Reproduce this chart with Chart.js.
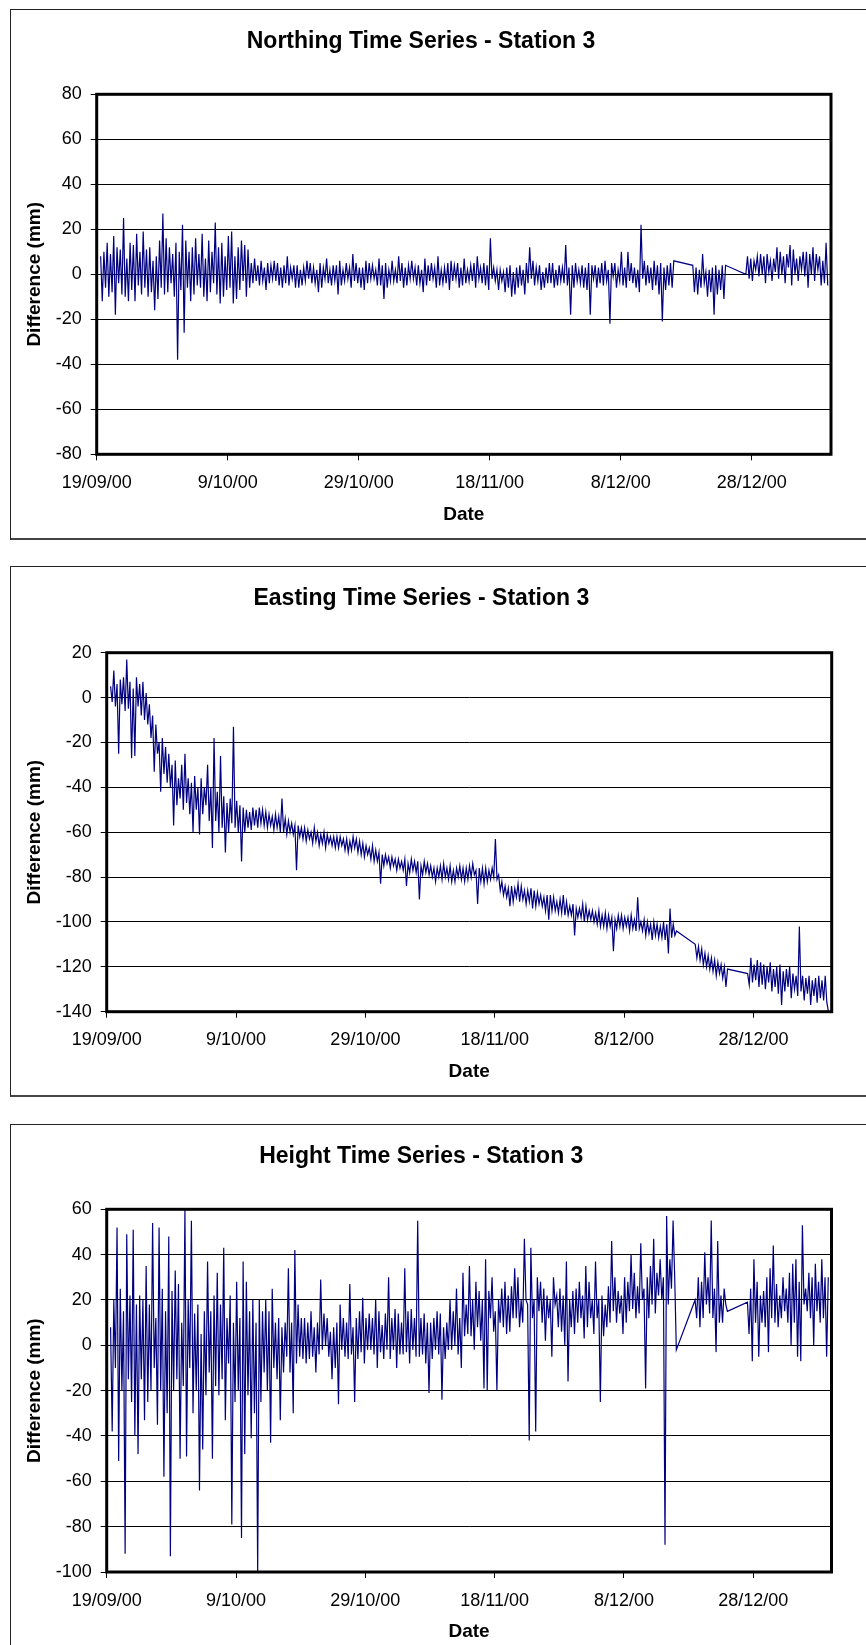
<!DOCTYPE html>
<html><head><meta charset="utf-8">
<script src="https://cdn.jsdelivr.net/npm/chart.js@4.4.1/dist/chart.umd.min.js"></script>
<style>
html,body{margin:0;padding:0;overflow:hidden;background:#fff;width:866px;height:1645px;}
.box{position:absolute;left:10px;width:880px;height:531px;box-sizing:border-box;border:1px solid #222;border-bottom:2px solid #444;background:#fff;}
.box canvas{position:absolute;left:0;top:0;width:878px;height:528px;}
</style></head><body>
<div class="box" style="top:9px"><canvas id="c1" width="878" height="528"></canvas></div>
<div class="box" style="top:566px"><canvas id="c2" width="878" height="528"></canvas></div>
<div class="box" style="top:1124px"><canvas id="c3" width="878" height="528"></canvas></div>
<script>
// Sample times, days after 19/09/00
const DAYS = [
0.6,0.85,1.1,1.35,1.6,1.85,2.1,2.35,2.6,2.85,3.1,3.35,3.6,3.85,4.1,4.35,4.6,4.85,5.1,5.35,
5.6,5.85,6.1,6.35,6.6,6.85,7.1,7.35,7.6,7.85,8.1,8.35,8.6,8.85,9.1,9.35,9.6,9.85,10.1,10.35,
10.6,10.85,11.1,11.35,11.6,11.85,12.1,12.35,12.6,12.85,13.1,13.35,13.6,13.85,14.1,14.35,14.6,14.85,15.1,15.35,
15.6,15.85,16.1,16.35,16.6,16.85,17.1,17.35,17.6,17.85,18.1,18.35,18.6,18.85,19.1,19.35,19.6,19.85,20.1,20.35,
20.6,20.85,21.1,21.35,21.6,21.85,22.1,22.35,22.6,22.85,23.1,23.35,23.6,23.85,24.1,24.35,24.6,24.85,25.1,25.35,
25.6,25.85,26.1,26.35,26.6,26.85,27.1,27.35,27.6,27.85,28.1,28.35,28.6,28.85,29.1,29.35,29.6,29.85,30.1,30.35,
30.6,30.85,31.1,31.35,31.6,31.85,32.1,32.35,32.6,32.85,33.1,33.35,33.6,33.85,34.1,34.35,34.6,34.85,35.1,35.35,
35.6,35.85,36.1,36.35,36.6,36.85,37.1,37.35,37.6,37.85,38.1,38.35,38.6,38.85,39.1,39.35,39.6,39.85,40.1,40.35,
40.6,40.85,41.1,41.35,41.6,41.85,42.1,42.35,42.6,42.85,43.1,43.35,43.6,43.85,44.1,44.35,44.6,44.85,45.1,45.35,
45.6,45.85,46.1,46.35,46.6,46.85,47.1,47.35,47.6,47.85,48.1,48.35,48.6,48.85,49.1,49.35,49.6,49.85,50.1,50.35,
50.6,50.85,51.1,51.35,51.6,51.85,52.1,52.35,52.6,52.85,53.1,53.35,53.6,53.85,54.1,54.35,54.6,54.85,55.1,55.35,
55.6,55.85,56.1,56.35,56.6,56.85,57.1,57.35,57.6,57.85,58.1,58.35,58.6,58.85,59.1,59.35,59.6,59.85,60.1,60.35,
60.6,60.85,61.1,61.35,61.6,61.85,62.1,62.35,62.6,62.85,63.1,63.35,63.6,63.85,64.1,64.35,64.6,64.85,65.1,65.35,
65.6,65.85,66.1,66.35,66.6,66.85,67.1,67.35,67.6,67.85,68.1,68.35,68.6,68.85,69.1,69.35,69.6,69.85,70.1,70.35,
70.6,70.85,71.1,71.35,71.6,71.85,72.1,72.35,72.6,72.85,73.1,73.35,73.6,73.85,74.1,74.35,74.6,74.85,75.1,75.35,
75.6,75.85,76.1,76.35,76.6,76.85,77.1,77.35,77.6,77.85,78.1,78.35,78.6,78.85,79.1,79.35,79.6,79.85,80.1,80.35,
80.6,80.85,81.1,81.35,81.6,81.85,82.1,82.35,82.6,82.85,83.1,83.35,83.6,83.85,84.1,84.35,84.6,84.85,85.1,85.35,
85.6,85.85,86.1,86.35,86.6,86.85,87.1,87.35,87.6,87.85,88.1,
91.0,91.25,91.5,91.75,92.0,92.25,92.5,92.75,93.0,93.25,93.5,93.75,94.0,94.25,94.5,94.75,95.0,95.25,95.5,95.75,96.0,
99.1,99.35,99.6,99.85,100.1,100.35,100.6,100.85,101.1,101.35,101.6,101.85,102.1,102.35,102.6,102.85,103.1,103.35,103.6,103.85,
104.1,104.35,104.6,104.85,105.1,105.35,105.6,105.85,106.1,106.35,106.6,106.85,107.1,107.35,107.6,107.85,108.1,108.35,108.6,108.85,
109.1,109.35,109.6,109.85,110.1,110.35,110.6,110.85,111.1,111.35,111.6
];

const NORTHING = [
8,-12,10,-6,14,-10,9,-8,17,-18,12,-4,11,-9,25,-10,7,-12,14,-7,
13,-12,18,-5,10,-9,19,-6,11,-10,12,-8,6,-16,8,-11,15,-6,27,-9,
16,-8,12,-4,9,-10,14,-38,10,-7,22,-26,15,-6,10,-12,12,-9,16,-5,
9,-6,18,-10,7,-12,15,-8,10,-4,23,-9,12,-13,14,-10,8,-7,17,-6,
19,-13,8,-11,12,-7,15,-3,13,-10,11,-6,5,-4,7,-3,4,-5,6,-3,
3,-7,5,-4,4,-2,6,-3,5,-5,3,-6,4,-4,8,-5,3,-2,4,-6,
4,-6,2,-5,3,-3,6,-2,5,-4,3,-4,2,-8,5,-6,3,-2,7,-4,
2,-5,4,-3,4,-9,6,-5,2,-3,5,-2,3,-6,9,-3,5,-4,3,-6,
3,-7,6,-4,5,-2,4,-2,2,-5,7,-5,4,-11,5,-6,2,-3,6,-3,
2,-4,8,-3,5,-6,3,-5,4,-2,6,-2,3,-5,4,-4,2,-8,7,-5,
4,-3,5,-2,3,-6,8,-5,2,-4,3,-4,5,-7,6,-3,4,-2,5,-6,
3,-5,7,-4,2,-3,4,-3,5,-6,8,-2,3,-4,5,-5,4,-7,16,-2,
3,-3,2,-7,2,-3,1,-8,3,-6,4,-10,1,-9,3,-6,4,-5,2,-9,
5,-4,12,-2,6,-5,3,-3,4,-7,1,-6,3,-4,5,-4,5,-6,2,-5,
4,-3,3,-4,13,-5,3,-18,4,-6,5,-3,2,-4,4,-6,3,-7,5,-18,
4,-2,4,-6,3,-4,5,-5,6,-3,2,-22,5,-1,5,-6,2,-3,10,-5,
3,-6,10,-3,5,-4,3,-6,2,-8,22,-2,6,-5,4,-4,3,-7,6,-5,
4,-9,5,-21,3,-7,4,-5,5,-6,6,
4,-8,3,-9,2,-6,9,-4,1,-10,2,-8,3,-18,4,-9,2,-7,4,-11,4,
0,8,-2,7,-3,6,2,8,-1,9,0,8,-4,9,1,6,-3,7,1,12,
-2,10,0,8,-4,9,3,13,-5,11,0,7,-3,8,2,10,-1,10,-6,9,
0,12,-3,9,2,8,-5,6,-4,14,-5
];

const EASTING = [
5,-2,12,-4,6,-25,8,-3,9,-6,17,-5,7,-27,4,-26,9,-4,6,-8,
7,-10,2,-12,-3,-18,-8,-33,-12,-25,-20,-42,-18,-34,-22,-38,-25,-40,-30,-57,
-28,-48,-36,-45,-30,-50,-25,-47,-36,-52,-38,-60,-35,-50,-40,-61,-36,-52,-40,-48,
-30,-55,-40,-67,-18,-55,-42,-60,-26,-58,-44,-69,-47,-60,-45,-56,-13,-58,-46,-60,
-48,-73,-49,-60,-50,-58,-51,-59,-49,-57,-50,-58,-49,-56,-50,-57,-51,-58,-52,-57,
-53,-59,-52,-58,-53,-60,-45,-60,-54,-61,-55,-60,-56,-61,-57,-77,-57,-62,-58,-63,
-58,-64,-59,-63,-60,-65,-58,-64,-60,-66,-61,-65,-60,-67,-61,-65,-62,-66,-62,-67,
-62,-67,-62,-66,-63,-68,-63,-69,-64,-68,-62,-67,-63,-69,-64,-70,-65,-71,-66,-70,
-67,-72,-66,-73,-68,-73,-69,-83,-70,-75,-70,-74,-71,-76,-71,-75,-72,-77,-72,-76,
-73,-77,-72,-84,-74,-78,-72,-77,-73,-78,-73,-90,-75,-79,-73,-78,-74,-79,-75,-80,
-76,-82,-76,-80,-75,-81,-74,-80,-76,-81,-75,-82,-77,-82,-76,-80,-75,-81,-76,-82,
-76,-81,-75,-80,-74,-79,-77,-92,-76,-82,-76,-83,-76,-82,-77,-81,-76,-80,-63,-81,
-79,-86,-82,-88,-84,-89,-85,-93,-84,-91,-85,-89,-83,-91,-84,-90,-86,-92,-86,-91,
-85,-94,-86,-93,-87,-92,-88,-93,-89,-95,-88,-99,-88,-95,-89,-95,-91,-96,-90,-96,
-88,-97,-91,-97,-93,-97,-92,-106,-94,-98,-94,-98,-92,-100,-93,-99,-95,-99,-95,-100,
-96,-101,-95,-102,-97,-102,-96,-103,-97,-102,-98,-113,-99,-103,-97,-102,-97,-103,-98,-102,
-98,-104,-97,-103,-99,-104,-89,-103,-100,-104,-99,-106,-100,-105,-101,-108,-100,-106,-101,-107,
-102,-107,-100,-108,-101,-114,-94,-107,-101,-106,-104,
-110,-116,-111,-117,-112,-119,-114,-120,-115,-121,-116,-122,-117,-124,-118,-123,-119,-125,-120,-129,-121,
-123,-128,-116,-127,-119,-126,-117,-129,-118,-128,-119,-130,-120,-127,-118,-131,-121,-129,-120,-132,
-119,-137,-122,-131,-121,-129,-120,-134,-123,-130,-124,-133,-102,-131,-124,-135,-125,-132,-124,-137,
-126,-133,-125,-136,-124,-134,-126,-135,-124,-136,-140
];

const HEIGHT = [
8,-38,20,-10,52,-51,25,-20,15,-92,49,-15,22,-25,51,-40,18,-48,22,-15,
20,-33,35,-25,18,-20,54,-10,12,-35,52,-20,25,-58,15,-30,48,-93,24,-20,
33,-15,27,-50,10,-18,60,-49,20,-10,55,-30,14,-20,18,-64,5,-46,15,-22,
37,-12,15,-50,22,-18,32,-22,18,-15,43,-33,12,-8,22,-79,10,-25,28,-20,
12,-85,37,-48,28,-22,15,-41,20,-30,10,-100,20,-25,15,-12,20,-20,15,-43,
25,-10,10,-15,12,-33,8,-12,10,-5,34,-12,10,-30,42,-8,18,-5,12,-6,
12,-8,10,-6,15,-5,8,-12,10,-4,29,-2,14,0,12,-5,6,-15,8,-10,
10,-26,18,-2,12,-5,10,-6,27,-4,8,-25,12,-6,15,-3,21,-8,12,-2,
14,-2,12,-4,20,-10,15,-3,9,-6,14,-2,30,-6,12,-2,16,-10,14,-4,
10,-4,34,-3,15,-8,16,-2,12,-5,55,-5,12,-4,14,-8,10,-21,10,-6,
12,-2,15,-4,14,-24,8,-6,10,-2,20,-2,15,0,25,-4,12,-10,32,4,
18,5,35,4,20,-2,28,8,24,2,20,-19,38,-20,24,12,30,6,15,-20,
20,10,25,8,28,5,22,6,26,12,34,12,30,8,20,10,47,20,18,-42,
43,12,20,-38,30,15,28,10,25,2,22,12,20,-5,30,18,22,8,25,6,
22,0,37,-16,20,8,24,5,25,10,28,12,22,3,35,8,28,12,20,5,
37,12,20,-25,22,4,18,8,26,10,46,15,30,10,24,14,22,5,30,10,
28,15,40,16,32,12,26,14,45,20,25,-19,30,12,35,18,47,14,32,22,
38,20,30,-88,57,18,38,25,55,30,-2,
20,12,30,8,28,12,41,18,30,14,55,12,25,-3,46,10,22,10,25,18,15,
19,5,25,-7,38,10,28,-5,22,10,24,8,30,-3,34,12,44,10,27,8,
22,12,30,15,25,10,32,0,36,10,38,-5,28,-7,53,18,25,15,32,12,
30,0,36,15,28,10,38,12,30,-5,30
];

const X_TICK_DAYS = [0, 20, 40, 60, 80, 100];
const X_TICK_LABELS = ['19/09/00', '9/10/00', '29/10/00', '18/11/00', '8/12/00', '28/12/00'];
const X_MIN = 0, X_MAX = 112.1;

const CW = 878, CH = 528;
Chart.defaults.font.family = '"Liberation Sans", Arial, sans-serif';
Chart.defaults.color = '#000';

const frame = {
  id: 'frame',
  afterDatasetsDraw(chart) {
    const { ctx, chartArea: a } = chart;
    ctx.save();
    ctx.strokeStyle = '#000';
    ctx.lineWidth = 3;
    ctx.strokeRect(a.left, a.top, a.right - a.left, a.bottom - a.top);
    ctx.restore();
  }
};

function makeChart(id, title, values, yMin, yMax, g) {
  if (values.length !== DAYS.length) console.error(id + ': ' + values.length + ' values vs ' + DAYS.length + ' days');
  const pts = DAYS.map((d, i) => ({ x: d, y: values[i] }));
  return new Chart(document.getElementById(id), {
    type: 'line',
    data: { datasets: [{ data: pts, borderColor: '#000080', borderWidth: 1.2, pointRadius: 0, tension: 0, fill: false }] },
    options: {
      responsive: false, animation: false, devicePixelRatio: 1,
      layout: { padding: { left: 0, right: CW - g.right, top: 0, bottom: 0 } },
      plugins: {
        legend: { display: false }, tooltip: { enabled: false },
        title: { display: true, text: title, color: '#000', font: { size: 23, weight: 'bold' },
                 padding: { top: 18, bottom: g.top - 18 - 27.6 } }
      },
      scales: {
        x: {
          type: 'linear', min: X_MIN, max: X_MAX,
          afterBuildTicks: s => { s.ticks = X_TICK_DAYS.map(v => ({ value: v })); },
          afterFit: s => { s.height = CH - g.bottom; },
          ticks: { callback: v => X_TICK_LABELS[X_TICK_DAYS.indexOf(v)], maxRotation: 0, minRotation: 0, autoSkip: false, padding: 12, font: { size: 18 }, color: '#000' },
          grid: { drawOnChartArea: false, drawTicks: true, tickLength: 6, color: '#000' },
          border: { display: false },
          title: { display: true, text: 'Date', color: '#000', font: { size: 19, weight: 'bold' },
                   padding: { top: 0, bottom: CH - g.bottom - 60 - 11.4 } }
        },
        y: {
          min: yMin, max: yMax,
          afterFit: s => { s.width = g.left; },
          ticks: { stepSize: 20, padding: 9, font: { size: 18 }, color: '#000' },
          grid: { color: '#000', tickLength: 6 },
          border: { display: false },
          title: { display: true, text: 'Difference (mm)', color: '#000', font: { size: 19, weight: 'bold' },
                   padding: { top: 12, bottom: 0 } }
        }
      }
    },
    plugins: [frame]
  });
}

makeChart('c1', 'Northing Time Series - Station 3', NORTHING, -80, 80, { left: 85.7, top: 84.3, right: 820, bottom: 444.3 });
makeChart('c2', 'Easting Time Series - Station 3', EASTING, -140, 20, { left: 95.7, top: 85.7, right: 820.7, bottom: 444.7 });
makeChart('c3', 'Height Time Series - Station 3', HEIGHT, -100, 60, { left: 95.7, top: 84.3, right: 820.5, bottom: 447 });
</script>
</body></html>
